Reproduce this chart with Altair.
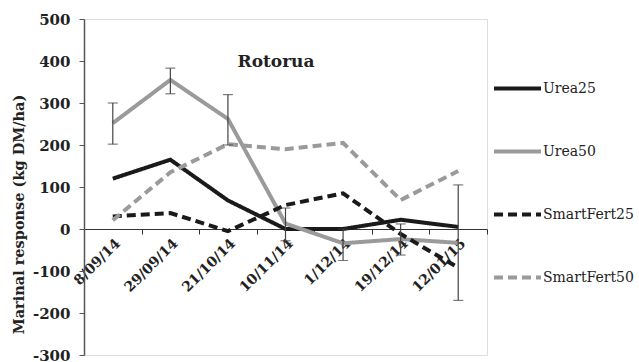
import altair as alt
import pandas as pd

dates = ["8/09/14", "29/09/14", "21/10/14", "10/11/14", "1/12/14", "19/12/14", "12/01/15"]
series_names = ["Urea25", "Urea50", "SmartFert25", "SmartFert50"]
urea25 = [120, 165, 68, 0, 0, 22, 5]
urea50 = [252, 355, 262, 13, -34, -24, -33]
smart25 = [30, 38, -5, 57, 85, -12, -92]
smart50 = [21, 135, 202, 190, 205, 69, 138]
err_low = [202, 322, 200, -28, -75, -62, -170]
err_high = [300, 383, 320, 50, 0, 12, 105]

rows = []
for name, vals in zip(series_names, [urea25, urea50, smart25, smart50]):
    for d, v in zip(dates, vals):
        rows.append({"date": d, "series": name, "value": v})
df = pd.DataFrame(rows)
err = pd.DataFrame({"date": dates, "lo": err_low, "hi": err_high})

FONT = "DejaVu Serif"
xscale = alt.Scale(type="band", paddingInner=0, paddingOuter=0, domain=dates)

xenc = alt.X("date:N", sort=dates, scale=xscale,
             axis=alt.Axis(title=None, offset=-126, labelAngle=-45, tickBand="extent",
                           labelFont=FONT, labelFontWeight="bold", labelFontSize=14,
                           labelColor="#222", domainColor="#333", tickColor="#333",
                           tickSize=5, labelPadding=2))
yscale = alt.Scale(domain=[-300, 500], nice=False, zero=False)

lines = alt.Chart(df).mark_line(strokeWidth=4).encode(
    x=xenc,
    y=alt.Y("value:Q", scale=yscale,
            axis=alt.Axis(title="Marinal response (kg DM/ha)", values=list(range(-300, 501, 100)),
                          labelExpr="'' + datum.value", grid=False,
                          labelFont=FONT, labelFontWeight="bold", labelFontSize=15, labelColor="#222",
                          titleFont=FONT, titleFontWeight="bold", titleFontSize=14.5, titleColor="#222",
                          titleX=-65, titleY=195, titleBaseline="middle", titleAngle=-90,
                          titleAlign="center",
                          labelPadding=9, tickSize=5,
                          domainColor="#555", tickColor="#555", domainWidth=1.5)),
    color=alt.Color("series:N", sort=series_names,
                    scale=alt.Scale(domain=series_names, range=["#1a1a1a", "#9a9a9a", "#1a1a1a", "#9a9a9a"]),
                    legend=alt.Legend(title=None, orient="none", legendX=408, legendY=44,
                                      symbolType="stroke", symbolSize=2209, symbolStrokeWidth=4,
                                      labelFont=FONT, labelFontSize=14, labelColor="#222",
                                      rowPadding=29, labelOffset=0, padding=0)),
    strokeDash=alt.StrokeDash("series:N", sort=series_names,
                              scale=alt.Scale(domain=series_names,
                                              range=[[1, 0], [1, 0], [9, 5], [9, 5]])),
)

bars = alt.Chart(err).mark_rule(color="#444", strokeWidth=1.2).encode(
    x=alt.X("date:N", sort=dates, scale=xscale),
    y=alt.Y("lo:Q", scale=yscale),
    y2="hi:Q",
)
caps_lo = alt.Chart(err).mark_tick(color="#444", thickness=1.2, size=10).encode(
    x=alt.X("date:N", sort=dates, scale=xscale), y=alt.Y("lo:Q", scale=yscale))
caps_hi = alt.Chart(err).mark_tick(color="#444", thickness=1.2, size=10).encode(
    x=alt.X("date:N", sort=dates, scale=xscale), y=alt.Y("hi:Q", scale=yscale))

title = alt.Chart(pd.DataFrame({"t": ["Rotorua"]})).mark_text(
    font=FONT, fontWeight="bold", fontSize=17, color="#222", align="center", baseline="middle"
).encode(x=alt.value(192), y=alt.value(43), text="t:N")

chart = alt.layer(lines, bars, caps_lo, caps_hi, title).properties(
    width=403, height=336,
    autosize=alt.AutoSizeParams(type="none"),
    padding={"left": 84, "top": 19, "right": 152, "bottom": 7},
).configure_view(stroke="#a8a8a8", strokeWidth=1.5).configure(background="white")

chart.save("out.html", embed_options={"renderer": "svg", "actions": False})
